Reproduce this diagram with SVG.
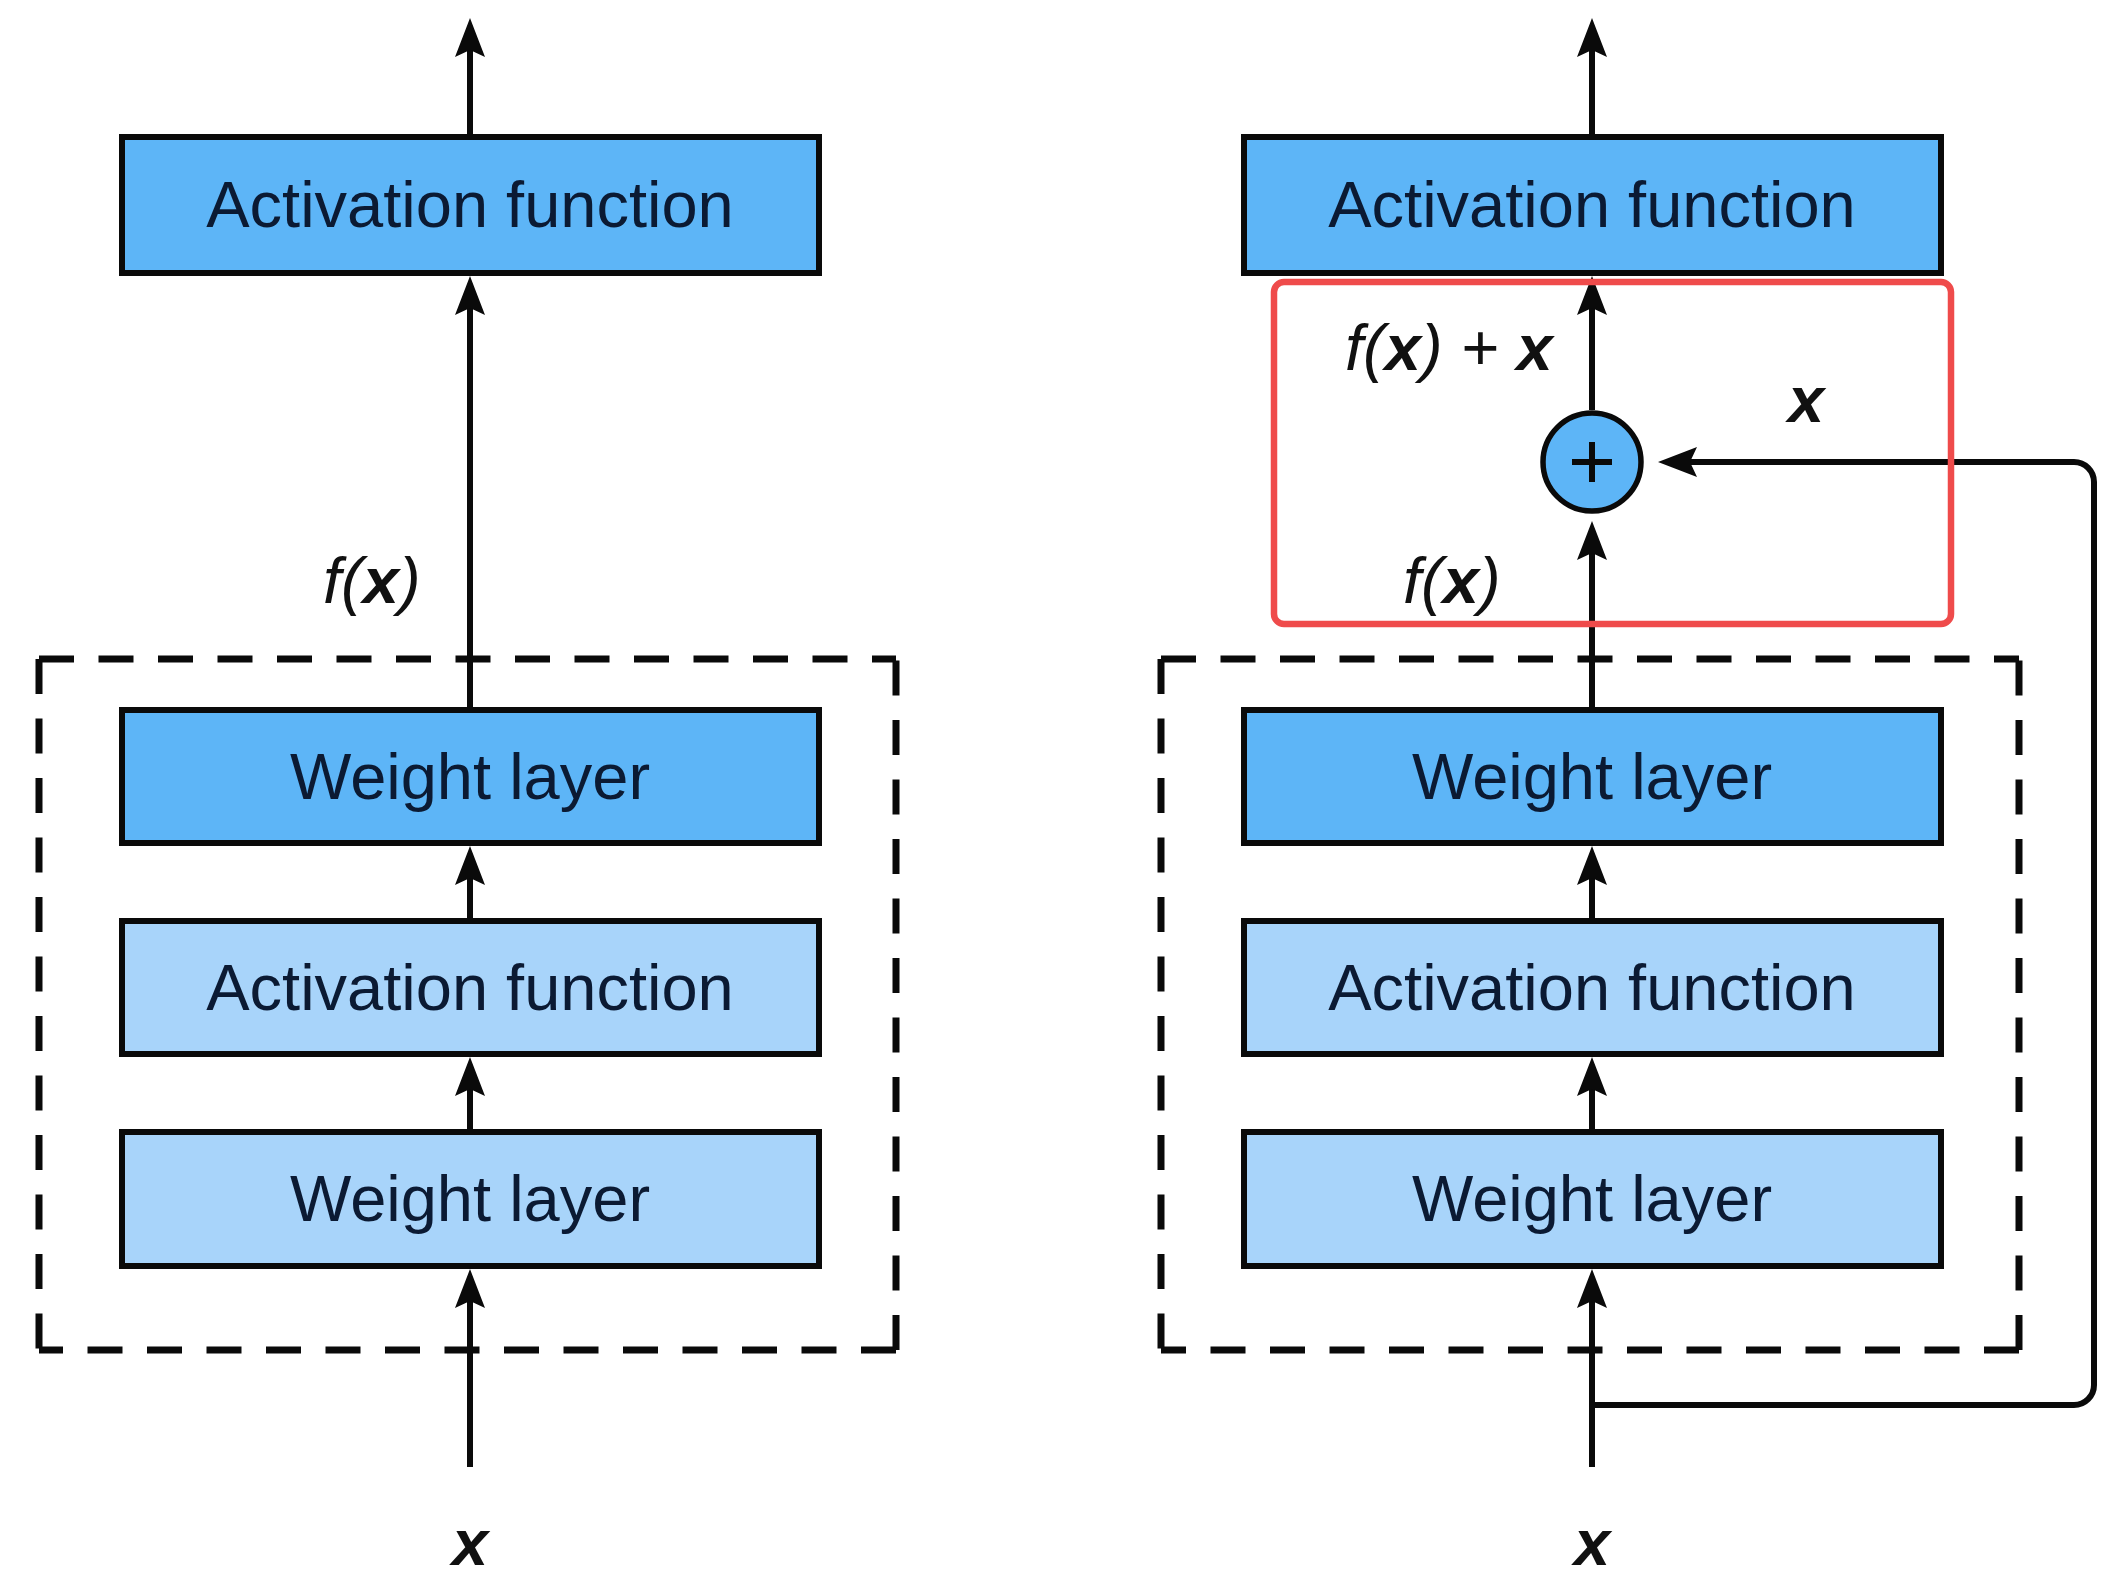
<svg xmlns="http://www.w3.org/2000/svg" width="2122" height="1588" viewBox="0 0 2122 1588">
<style>
.box{stroke:#0a0a0a;stroke-width:6}
.dark{fill:#5db5f7}
.light{fill:#a8d4fa}
.lbl{font-family:"Liberation Sans",Arial,sans-serif;font-size:65px;fill:#0b1a33;text-anchor:middle}
.math{font-family:"Liberation Sans",Arial,sans-serif;font-size:65px;font-style:italic;fill:#111}
.b{font-weight:bold}
.conn{fill:none;stroke:#0a0a0a;stroke-width:6}
.arr{marker-end:url(#ah)}
.dash{fill:none;stroke:#0a0a0a;stroke-width:7;stroke-dasharray:35 24.5}
</style>
<defs>
<marker id="ah" viewBox="-15 -16 42 32" markerWidth="42" markerHeight="32" refX="0" refY="0" orient="auto" markerUnits="userSpaceOnUse">
<path d="M25,0 L-14,-15 L-7,0 L-14,15 Z" fill="#0a0a0a"/>
</marker>
</defs>
<rect width="2122" height="1588" fill="#ffffff"/>

<g id="dashed-left">
<path class="dash" d="M39,659 H896 M39,659 V1350 M896,1350 H39 M896,1350 V659"/>
</g>
<g id="dashed-right">
<path class="dash" d="M1161,659 H2019 M1161,659 V1350 M2019,1350 H1161 M2019,1350 V659"/>
</g>

<g id="connectors">
<path class="conn arr" d="M470,137 V43"/>
<path class="conn arr" d="M470,710 V301"/>
<path class="conn arr" d="M470,921 V871"/>
<path class="conn arr" d="M470,1132 V1082"/>
<path class="conn arr" d="M470,1467 V1294"/>
<path class="conn arr" d="M1592,137 V43"/>
<path class="conn arr" d="M1592,410 V301"/>
<path class="conn arr" d="M1592,710 V546"/>
<path class="conn arr" d="M1592,921 V871"/>
<path class="conn arr" d="M1592,1132 V1082"/>
<path class="conn arr" d="M1592,1467 V1294"/>
<path class="conn arr" d="M1592,1405 H2074 A20,20 0 0 0 2094,1385 V482 A20,20 0 0 0 2074,462 H1683"/>
</g>

<g id="left-act-top">
<rect class="box dark" x="122" y="137" width="697" height="136"/>
<text class="lbl" x="470" y="227">Activation function</text>
</g>
<g id="left-weight-top">
<rect class="box dark" x="122" y="710" width="697" height="133"/>
<text class="lbl" x="470" y="799">Weight layer</text>
</g>
<g id="left-act">
<rect class="box light" x="122" y="921" width="697" height="133"/>
<text class="lbl" x="470" y="1010">Activation function</text>
</g>
<g id="left-weight">
<rect class="box light" x="122" y="1132" width="697" height="134"/>
<text class="lbl" x="470" y="1221">Weight layer</text>
</g>

<g id="right-act-top">
<rect class="box dark" x="1244" y="137" width="697" height="136"/>
<text class="lbl" x="1592" y="227">Activation function</text>
</g>
<g id="right-weight-top">
<rect class="box dark" x="1244" y="710" width="697" height="133"/>
<text class="lbl" x="1592" y="799">Weight layer</text>
</g>
<g id="right-act">
<rect class="box light" x="1244" y="921" width="697" height="133"/>
<text class="lbl" x="1592" y="1010">Activation function</text>
</g>
<g id="right-weight">
<rect class="box light" x="1244" y="1132" width="697" height="134"/>
<text class="lbl" x="1592" y="1221">Weight layer</text>
</g>

<g id="plus">
<circle cx="1592" cy="462" r="49" fill="#5db5f7" stroke="#0a0a0a" stroke-width="5.5"/>
<path d="M1572,462 H1612 M1592,442 V482" stroke="#0a0a0a" stroke-width="6" fill="none"/>
</g>

<g id="labels">
<text class="math" x="323" y="603">f(<tspan class="b">x</tspan>)</text>
<text class="math" x="1403" y="603">f(<tspan class="b">x</tspan>)</text>
<text class="math" x="1345" y="370">f(<tspan class="b">x</tspan>) + <tspan class="b">x</tspan></text>
<text class="math b" x="1788" y="422">x</text>
<text class="math b" x="470" y="1565" text-anchor="middle">x</text>
<text class="math b" x="1592" y="1565" text-anchor="middle">x</text>
</g>

<g id="highlight">
<rect x="1274" y="282" width="677" height="342" rx="10" fill="none" stroke="#ef4b4b" stroke-width="6.5"/>
</g>
</svg>
